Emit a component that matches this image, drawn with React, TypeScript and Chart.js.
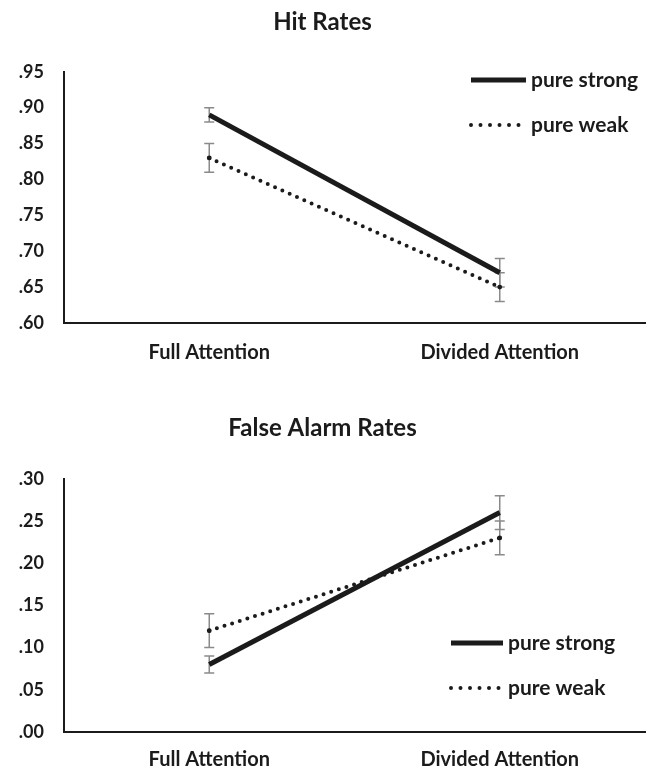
import React, { useEffect, useRef } from 'react';
import { Chart, registerables } from 'chart.js';

Chart.register(...registerables);

const FONT = 'Lato, "Open Sans", sans-serif';
const INK = '#1b1b1b';
const BAR = '#8a8a8a';

const categories = ['Full Attention', 'Divided Attention'];
const seriesLabels = ['pure strong', 'pure weak'];

const hitStrong = [0.89, 0.67];
const hitWeak = [0.83, 0.65];
const hitStrongErr = [0.01, 0.02];
const hitWeakErr = [0.02, 0.02];

const faStrong = [0.08, 0.26];
const faWeak = [0.12, 0.23];
const faStrongErr = [0.01, 0.02];
const faWeakErr = [0.02, 0.02];

const hitRange = [0.6, 0.95];
const faRange = [0.0, 0.3];
const tickStep = 0.05;

const fmtTick = (v: number) => v.toFixed(2).replace(/^0/, '');

const errorBarPlugin = {
  id: 'errorBars',
  beforeDatasetsDraw(chart: any, _args: any, opts: any) {
    const ctx = chart.ctx;
    const y = chart.scales.y;
    ctx.save();
    ctx.strokeStyle = opts.color;
    ctx.lineWidth = opts.width;
    chart.data.datasets.forEach((ds: any, i: number) => {
      const meta = chart.getDatasetMeta(i);
      meta.data.forEach((pt: any, j: number) => {
        const v = ds.data[j];
        const e = ds.errors[j];
        const yt = y.getPixelForValue(v + e);
        const yb = y.getPixelForValue(v - e);
        const x = pt.x;
        ctx.beginPath();
        ctx.moveTo(x, yt);
        ctx.lineTo(x, yb);
        ctx.moveTo(x - opts.cap, yt);
        ctx.lineTo(x + opts.cap, yt);
        ctx.moveTo(x - opts.cap, yb);
        ctx.lineTo(x + opts.cap, yb);
        ctx.stroke();
      });
    });
    ctx.restore();
  },
};

const lineLegendPlugin = {
  id: 'lineLegend',
  afterDatasetsDraw(chart: any, _args: any, opts: any) {
    const ctx = chart.ctx;
    chart.data.datasets.forEach((ds: any, i: number) => {
      const yy = opts.top + i * opts.gap;
      const dashed = !!ds.borderDash;
      ctx.save();
      ctx.strokeStyle = ds.borderColor;
      ctx.lineWidth = ds.borderWidth;
      ctx.lineCap = ds.borderCapStyle || 'butt';
      ctx.setLineDash(dashed ? opts.dash : []);
      ctx.beginPath();
      ctx.moveTo(opts.left, yy);
      ctx.lineTo(opts.left + (dashed ? opts.length - 4 : opts.length), yy);
      ctx.stroke();
      ctx.setLineDash([]);
      ctx.fillStyle = INK;
      ctx.font = `bold ${opts.fontSize}px ${FONT}`;
      ctx.textBaseline = 'middle';
      ctx.textAlign = 'left';
      ctx.fillText(ds.label, opts.left + opts.length + opts.textGap, yy);
      ctx.restore();
    });
  },
};

type PanelProps = {
  title: string;
  strong: number[];
  weak: number[];
  strongErr: number[];
  weakErr: number[];
  range: number[];
  height: number;
  titleTop: number;
  titleBottom: number;
  xPad: number;
  xHeight: number;
  bottomPad: number;
  legend: any;
};

function Panel(p: PanelProps) {
  const ref = useRef<HTMLCanvasElement>(null);
  useEffect(() => {
    if (!ref.current) return;
    const chart = new Chart(ref.current, {
      type: 'line',
      data: {
        labels: categories,
        datasets: [
          {
            label: seriesLabels[0],
            data: p.strong,
            errors: p.strongErr,
            borderColor: INK,
            backgroundColor: INK,
            borderWidth: 5,
            pointRadius: 0,
            borderCapStyle: 'butt',
          } as any,
          {
            label: seriesLabels[1],
            data: p.weak,
            errors: p.weakErr,
            borderColor: INK,
            backgroundColor: INK,
            borderWidth: 4,
            borderDash: [0, 8],
            borderCapStyle: 'round',
            pointRadius: 2.4,
            pointBorderWidth: 0,
            pointBackgroundColor: INK,
          } as any,
        ],
      },
      options: {
        responsive: false,
        animation: false,
        devicePixelRatio: 1,
        layout: { padding: { left: 0, right: 7, top: 0, bottom: p.bottomPad } },
        plugins: {
          legend: { display: false },
          tooltip: { enabled: false },
          title: {
            display: true,
            text: p.title,
            color: INK,
            font: { family: FONT, size: 24, weight: 'bold' },
            padding: { top: p.titleTop, bottom: p.titleBottom },
          },
          errorBars: { color: BAR, width: 1.5, cap: 5 },
          lineLegend: p.legend,
        } as any,
        scales: {
          x: {
            type: 'category',
            offset: true,
            grid: { display: false, drawTicks: false },
            border: { display: true, color: INK, width: 2 },
            ticks: {
              color: INK,
              padding: p.xPad,
              font: { family: FONT, size: 20, weight: 'bold' },
            },
            afterFit: (s: any) => {
              s.height = p.xHeight;
            },
          },
          y: {
            min: p.range[0],
            max: p.range[1],
            grid: { display: false, drawTicks: false },
            border: { display: true, color: INK, width: 2 },
            ticks: {
              stepSize: tickStep,
              color: INK,
              padding: 20,
              font: { family: FONT, size: 18, weight: 'bold' },
              callback: (v: any) => fmtTick(Number(v)),
            },
            afterFit: (s: any) => {
              s.width = 64;
            },
          },
        },
      },
      plugins: [errorBarPlugin, lineLegendPlugin],
    });
    return () => chart.destroy();
  }, []);
  return <canvas ref={ref} width={652} height={p.height} style={{ display: 'block' }} />;
}

export default function App() {
  return (
    <div style={{ position: 'absolute', left: 0, top: 0, width: 652, height: 772, background: '#fff' }}>
      <Panel
        title="Hit Rates"
        strong={hitStrong}
        weak={hitWeak}
        strongErr={hitStrongErr}
        weakErr={hitWeakErr}
        range={hitRange}
        height={380}
        titleTop={8}
        titleBottom={35}
        xPad={18}
        xHeight={45}
        bottomPad={12}
        legend={{ left: 471, top: 80, gap: 45, length: 55, textGap: 5, fontSize: 21, dash: [0, 9.5] }}
      />
      <Panel
        title="False Alarm Rates"
        strong={faStrong}
        weak={faWeak}
        strongErr={faStrongErr}
        weakErr={faWeakErr}
        range={faRange}
        height={392}
        titleTop={34}
        titleBottom={36}
        xPad={16}
        xHeight={40}
        bottomPad={0}
        legend={{ left: 451, top: 263, gap: 45, length: 52, textGap: 5, fontSize: 21, dash: [0, 9.5] }}
      />
    </div>
  );
}
